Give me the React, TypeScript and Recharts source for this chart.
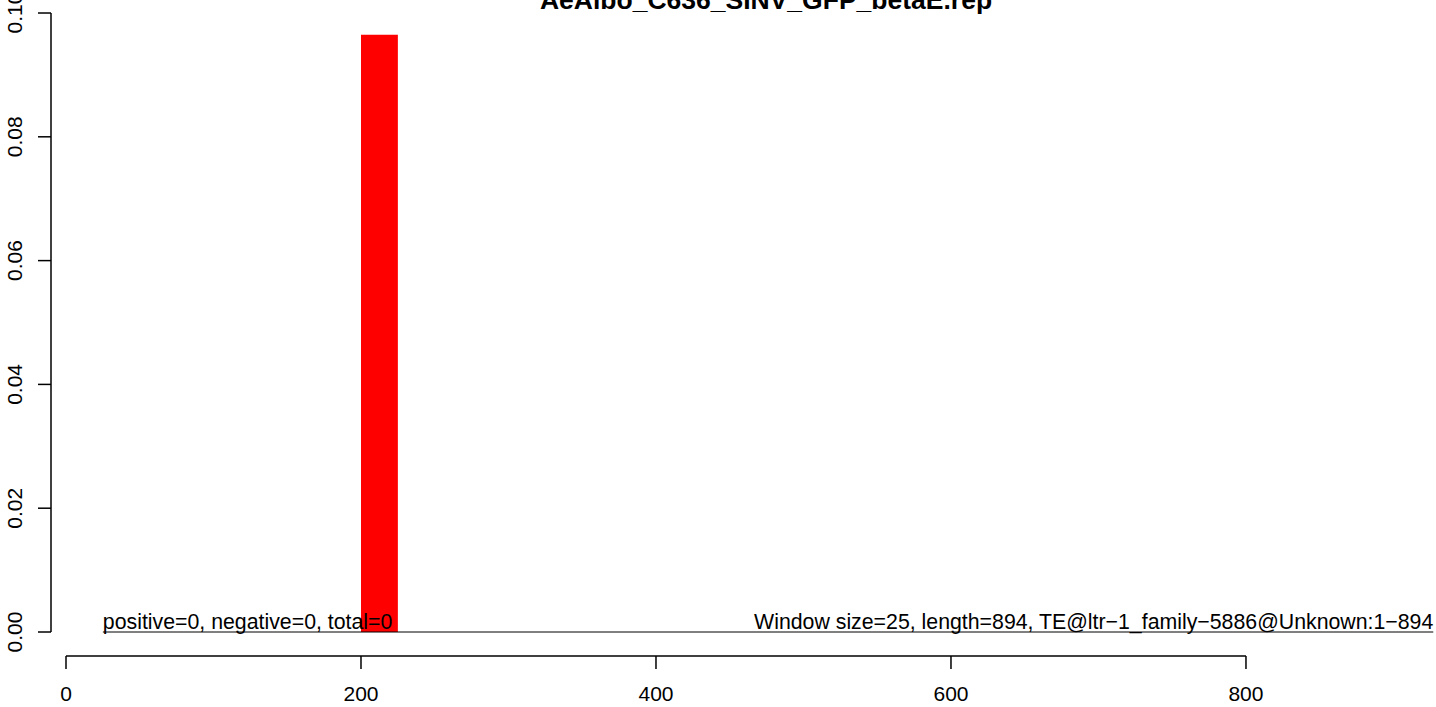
import * as React from "react";
import {
  ComposedChart,
  XAxis,
  YAxis,
  ReferenceArea,
  ReferenceLine,
  ReferenceDot,
} from "recharts";

// Window-coverage histogram, R base-graphics look.
const TITLE = "AeAlbo_C636_SINV_GFP_betaE.rep";
const WINDOW_SIZE = 25;
const windowStarts = [200];
const windowValues = [0.0965];
const xTicks = [0, 200, 400, 600, 800];
const yTicks = [0, 0.02, 0.04, 0.06, 0.08, 0.1];
const leftNote = "positive=0, negative=0, total=0";
const rightNote = "Window size=25, length=894, TE@ltr\u22121_family\u22125886@Unknown:1\u2212894";
const baselineRange = [25, 927];

const X_DOMAIN: [number, number] = [-10.17, 926.8];
const Y_DOMAIN: [number, number] = [-0.003877, 0.10194];

const FONT = '"Liberation Sans", Arial, Helvetica, sans-serif';
const W = 1436;
const H = 707;

const windows = windowStarts.map((s, i) => ({ x1: s, x2: s + WINDOW_SIZE, y: windowValues[i] }));

function YTick(props: any) {
  const { x, y, payload } = props;
  return (
    <text
      transform={`translate(${x - 16.5},${y}) rotate(-90)`}
      textAnchor="middle"
      fontSize={21}
      fontFamily={FONT}
      fill="#000"
    >
      {payload.value.toFixed(2)}
    </text>
  );
}

function XTick(props: any) {
  const { x, y, payload } = props;
  return (
    <text x={x} y={y} dy="0.71em" textAnchor="middle" fontSize={21} fontFamily={FONT} fill="#000">
      {payload.value}
    </text>
  );
}

function NoteShape(text: string, anchor: "start" | "end") {
  return (p: any) => (
    <text x={p.cx} y={p.cy - 3} textAnchor={anchor} fontSize={21.3} fontFamily={FONT} fill="#000">
      {text}
    </text>
  );
}

export default function App() {
  return (
    <div style={{ position: "absolute", left: 0, top: 0, width: W, height: H, background: "#fff" }}>
      <ComposedChart width={W} height={H} margin={{ top: 1, right: 3, bottom: 6, left: 0 }}>
        <XAxis
          type="number"
          dataKey="x"
          domain={X_DOMAIN}
          ticks={xTicks}
          allowDataOverflow
          axisLine={false}
          tickLine={{ stroke: "#000", strokeWidth: 1.5 }}
          tickSize={13}
          tickMargin={17}
          height={45}
          tick={<XTick />}
          interval={0}
        />
        <YAxis
          type="number"
          domain={Y_DOMAIN}
          ticks={yTicks}
          allowDataOverflow
          axisLine={false}
          tickLine={{ stroke: "#000", strokeWidth: 1.5 }}
          tickSize={13}
          tickMargin={0}
          width={51}
          tick={<YTick />}
          interval={0}
        />
        {windows.map((w, i) => (
          <ReferenceArea
            key={i}
            x1={w.x1}
            x2={w.x2}
            y1={0}
            y2={w.y}
            fill="#ff0000"
            fillOpacity={1}
            stroke="none"
            ifOverflow="visible"
          />
        ))}
        <ReferenceLine
          segment={[
            { x: baselineRange[0], y: 0 },
            { x: baselineRange[1], y: 0 },
          ]}
          stroke="#000"
          strokeWidth={1}
          ifOverflow="visible"
        />
        <ReferenceLine
          segment={[
            { x: xTicks[0], y: Y_DOMAIN[0] },
            { x: xTicks[xTicks.length - 1], y: Y_DOMAIN[0] },
          ]}
          stroke="#000"
          strokeWidth={1.5}
          ifOverflow="visible"
        />
        <ReferenceLine
          segment={[
            { x: X_DOMAIN[0], y: yTicks[0] },
            { x: X_DOMAIN[0], y: yTicks[yTicks.length - 1] },
          ]}
          stroke="#000"
          strokeWidth={1.5}
          ifOverflow="visible"
        />
        <ReferenceDot x={baselineRange[0]} y={0} r={0} ifOverflow="visible" shape={NoteShape(leftNote, "start")} />
        <ReferenceDot x={baselineRange[1]} y={0} r={0} ifOverflow="visible" shape={NoteShape(rightNote, "end")} />
      </ComposedChart>
      <svg width={W} height={40} style={{ position: "absolute", left: 0, top: 0, pointerEvents: "none" }}>
        <text x={766} y={9} textAnchor="middle" fontSize={26.5} fontWeight="bold" fontFamily={FONT} fill="#000">
          {TITLE}
        </text>
      </svg>
    </div>
  );
}
